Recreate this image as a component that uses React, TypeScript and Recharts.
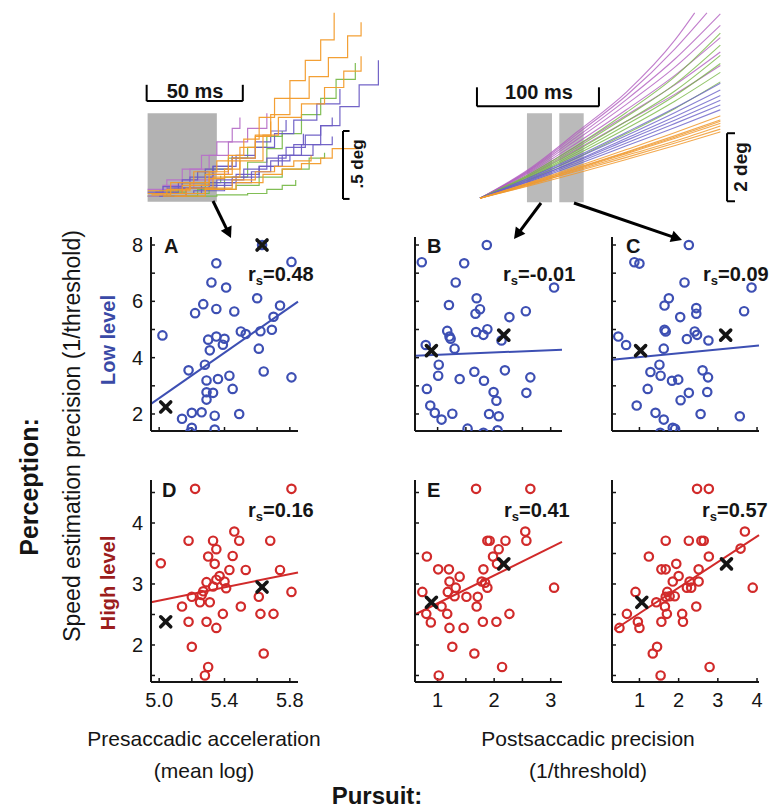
import React from 'react';
import {
  ScatterChart,
  Scatter,
  LineChart,
  Line,
  XAxis,
  YAxis,
  ReferenceLine,
  ReferenceArea,
} from 'recharts';

const FONT = '"Liberation Sans", Arial, Helvetica, sans-serif';
const BLUE = '#3d4fb3';
const RED = '#d12a2a';
const INK = '#151515';

type Pt = [number, number];

// ---- scatter data (x, y) per panel ----
// A: presaccadic acceleration vs low-level precision
const accelLow: Pt[] = [
  [5.02, 4.79], [5.35, 7.35], [5.81, 7.4], [5.32, 6.67], [5.41, 6.49], [5.27, 5.9],
  [5.22, 5.58], [5.35, 5.73], [5.46, 5.64], [5.6, 6.11], [5.74, 5.85], [5.7, 5.45],
  [5.69, 4.99], [5.62, 4.94], [5.5, 4.93], [5.53, 4.84], [5.35, 4.75], [5.3, 4.64],
  [5.4, 4.67], [5.39, 4.46], [5.31, 4.26], [5.61, 4.32], [5.28, 3.75], [5.18, 3.55],
  [5.64, 3.51], [5.81, 3.3], [5.43, 3.36], [5.36, 3.24], [5.29, 3.19], [5.45, 2.89],
  [5.29, 2.77], [5.33, 2.75], [5.29, 2.51], [5.49, 2.0], [5.2, 2.04], [5.26, 2.06],
  [5.34, 1.94], [5.14, 1.83], [5.2, 1.51], [5.19, 1.35], [5.34, 1.45], [5.63, 8.0],
];
const accelLowMarked: Pt[] = [[5.04, 2.25], [5.63, 8.0]];
const accelLowFit: Pt[] = [[4.95, 2.36], [5.85, 5.99]];

// B: postsaccadic precision (early window) vs low-level precision
const postLowB: Pt[] = [
  [0.72, 7.39], [1.87, 8.0], [1.47, 7.35], [1.32, 6.67], [3.06, 6.49], [1.2, 5.87],
  [1.69, 6.11], [1.75, 5.72], [1.67, 5.56], [2.27, 5.44], [2.56, 5.65], [1.17, 4.95],
  [1.21, 4.75], [1.23, 4.67], [1.68, 4.91], [1.81, 4.81], [1.88, 5.01], [2.13, 4.61],
  [0.79, 4.45], [1.3, 4.32], [1.02, 3.75], [1.01, 3.36], [1.39, 3.24], [1.65, 3.5],
  [1.82, 3.18], [2.19, 3.55], [2.64, 3.3], [0.81, 2.89], [1.99, 2.78], [2.04, 2.47],
  [2.57, 2.75], [0.87, 2.3], [0.95, 2.04], [1.07, 1.8], [1.26, 2.01], [1.91, 2.0],
  [2.08, 1.92], [1.53, 1.48], [1.81, 1.33], [2.06, 1.42],
];
const postLowBMarked: Pt[] = [[0.89, 4.25], [2.17, 4.8]];
const postLowBFit: Pt[] = [[0.6, 4.07], [3.2, 4.28]];

// C: postsaccadic precision (late window) vs low-level precision
const postLowC: Pt[] = [
  [2.26, 8.0], [0.87, 7.39], [1.0, 7.34], [2.15, 6.67], [3.86, 6.49], [1.75, 6.11],
  [1.64, 5.85], [2.45, 5.76], [2.45, 5.56], [2.04, 5.44], [3.67, 5.65], [1.64, 4.99],
  [1.67, 4.93], [2.41, 4.93], [2.47, 4.81], [2.21, 4.66], [2.76, 4.61], [0.46, 4.75],
  [0.66, 4.45], [1.62, 4.32], [1.51, 3.75], [1.28, 3.49], [1.54, 3.36], [1.83, 3.18],
  [1.99, 3.22], [2.61, 3.55], [2.75, 3.3], [1.21, 2.89], [2.26, 2.75], [2.05, 2.49],
  [2.73, 2.78], [0.93, 2.3], [1.41, 2.04], [1.62, 1.8], [2.56, 2.0], [3.56, 1.92],
  [1.85, 1.51], [1.91, 1.47], [1.53, 1.33],
];
const postLowCMarked: Pt[] = [[1.03, 4.25], [3.2, 4.8]];
const postLowCFit: Pt[] = [[0.3, 3.93], [4.05, 4.43]];

// D: presaccadic acceleration vs high-level precision
const accelHigh: Pt[] = [
  [5.22, 4.56], [5.81, 4.56], [5.01, 3.34], [5.18, 3.71], [5.33, 3.71], [5.35, 3.57],
  [5.46, 3.86], [5.49, 3.71], [5.68, 3.71], [5.3, 3.45], [5.45, 3.46], [5.34, 3.33],
  [5.43, 3.23], [5.53, 3.23], [5.74, 3.23], [5.37, 3.13], [5.29, 3.03], [5.35, 3.07],
  [5.4, 3.04], [5.33, 2.96], [5.41, 2.93], [5.27, 2.88], [5.26, 2.82], [5.2, 2.79],
  [5.25, 2.7], [5.31, 2.7], [5.14, 2.63], [5.61, 2.79], [5.81, 2.87], [5.5, 2.63],
  [5.18, 2.38], [5.29, 2.38], [5.35, 2.28], [5.39, 2.51], [5.62, 2.51], [5.7, 2.51],
  [5.2, 1.97], [5.64, 1.86], [5.3, 1.64], [5.28, 1.5],
];
const accelHighMarked: Pt[] = [[5.04, 2.38], [5.63, 2.95]];
const accelHighFit: Pt[] = [[4.95, 2.7], [5.85, 3.19]];

// E: postsaccadic precision (early window) vs high-level precision
const postHighE: Pt[] = [
  [1.68, 4.56], [2.64, 4.56], [2.55, 3.86], [2.57, 3.71], [1.88, 3.71], [1.92, 3.71],
  [2.2, 3.71], [2.08, 3.57], [1.98, 3.45], [2.05, 3.33], [0.81, 3.45], [1.01, 3.24],
  [1.2, 3.24], [1.81, 3.24], [1.39, 3.12], [1.21, 3.04], [1.32, 2.94], [1.78, 3.04],
  [1.84, 3.02], [1.88, 2.94], [3.06, 2.94], [0.73, 2.87], [1.18, 2.87], [1.3, 2.8],
  [1.51, 2.79], [1.71, 2.79], [1.69, 2.63], [1.07, 2.63], [0.8, 2.51], [1.17, 2.51],
  [0.88, 2.37], [1.21, 2.28], [1.46, 2.28], [1.8, 2.38], [2.04, 2.38], [2.27, 2.51],
  [1.26, 1.97], [1.65, 1.86], [2.14, 1.64], [1.02, 1.5],
];
const postHighEMarked: Pt[] = [[0.89, 2.7], [2.17, 3.33]];
const postHighEFit: Pt[] = [[0.6, 2.5], [3.2, 3.69]];

// F: postsaccadic precision (late window) vs high-level precision
const postHighF: Pt[] = [
  [2.47, 4.56], [2.77, 4.56], [3.69, 3.86], [3.58, 3.58], [1.67, 3.71], [2.26, 3.71],
  [2.58, 3.71], [2.64, 3.71], [1.24, 3.45], [2.77, 3.45], [1.94, 3.33], [1.56, 3.24],
  [1.67, 3.24], [2.51, 3.24], [2.0, 3.13], [1.85, 3.04], [2.28, 3.04], [2.51, 3.04],
  [2.21, 2.94], [2.32, 2.94], [3.89, 2.94], [0.9, 2.87], [1.71, 2.87], [1.67, 2.79],
  [1.77, 2.8], [1.9, 2.8], [1.43, 2.7], [1.65, 2.63], [2.45, 2.63], [0.68, 2.51],
  [1.7, 2.51], [2.09, 2.51], [0.96, 2.38], [1.56, 2.38], [2.11, 2.38], [0.49, 2.28],
  [1.0, 2.28], [1.45, 1.97], [1.34, 1.86], [2.79, 1.64], [1.54, 1.5],
];
const postHighFMarked: Pt[] = [[1.06, 2.7], [3.22, 3.33]];
const postHighFFit: Pt[] = [[0.36, 2.25], [4.05, 3.8]];

// correlation labels
const rsValues = ['0.48', '-0.01', '0.09', '0.16', '0.41', '0.57'];

// ticks
const accelTicks = [5.0, 5.2, 5.4, 5.6, 5.8];
const postTicksB = [1, 1.5, 2, 2.5, 3];
const postTicksC = [1, 2, 3, 4];
const lowTicks = [2, 3, 4, 5, 6, 7, 8];
const highTicks = [1.5, 2, 2.5, 3, 3.5, 4, 4.5];

// ---- eye traces (t in ms, position in deg) ----
const presacOrange: Pt[][] = [
  [[0, 0.02], [10, 0.05], [22, 0.1], [32, 0.18], [42, 0.3], [50, 0.42], [58, 0.58], [66, 0.72], [74, 0.85], [82, 1.0], [90, 1.15], [97, 1.35]],
  [[5, 0.02], [18, 0.08], [30, 0.16], [44, 0.28], [56, 0.45], [64, 0.6], [74, 0.72], [84, 0.88], [94, 1.02], [104, 1.18], [111, 1.28]],
  [[8, 0.0], [20, 0.06], [34, 0.14], [48, 0.26], [60, 0.45], [68, 0.58], [80, 0.68], [92, 0.8], [102, 0.92], [111, 1.03]],
  [[14, 0.0], [30, 0.05], [46, 0.1], [60, 0.16], [70, 0.2], [80, 0.24], [90, 0.28], [96, 0.35], [110, 0.35]],
  [[16, 0.02], [30, 0.06], [44, 0.12], [56, 0.18], [66, 0.22], [76, 0.26], [85, 0.3]],
  [[0, 0.04], [12, 0.1], [24, 0.18], [36, 0.26], [48, 0.36], [56, 0.44], [64, 0.55]],
  [[2, 0.01], [12, 0.04], [22, 0.08], [32, 0.13], [40, 0.2], [48, 0.26]],
];
const presacPurple: Pt[][] = [
  [[12, 0.02], [28, 0.08], [44, 0.14], [58, 0.22], [70, 0.3], [80, 0.38], [90, 0.52], [100, 0.66], [110, 0.82], [120, 1.0]],
  [[4, 0.03], [16, 0.1], [30, 0.2], [44, 0.28], [56, 0.36], [66, 0.46], [76, 0.56], [88, 0.68], [100, 0.79]],
  [[6, 0.0], [20, 0.06], [36, 0.12], [50, 0.2], [62, 0.28], [72, 0.36], [82, 0.45], [90, 0.52], [96, 0.58]],
  [[2, 0.02], [18, 0.06], [32, 0.1], [46, 0.16], [58, 0.22], [68, 0.3], [76, 0.38], [81, 0.46]],
  [[10, 0.06], [22, 0.14], [34, 0.22], [46, 0.3], [56, 0.4], [64, 0.48], [72, 0.56]],
  [[8, 0.02], [24, 0.04], [40, 0.1], [54, 0.18], [64, 0.26], [74, 0.3], [86, 0.38], [96, 0.44]],
  [[0, 0.03], [8, 0.07], [18, 0.12], [26, 0.18], [34, 0.22], [44, 0.3]],
];
const presacGreen: Pt[][] = [
  [[10, 0.0], [26, 0.05], [40, 0.14], [52, 0.25], [62, 0.35], [70, 0.46], [80, 0.6], [90, 0.72], [98, 0.86], [108, 0.98]],
  [[20, 0.0], [36, 0.01], [52, 0.02], [62, 0.05], [70, 0.08], [77, 0.12]],
  [[6, 0.04], [18, 0.1], [30, 0.2], [42, 0.28], [52, 0.36], [62, 0.44], [70, 0.48]],
  [[18, 0.02], [32, 0.05], [46, 0.08], [58, 0.14], [70, 0.2], [84, 0.28], [92, 0.32]],
  [[0, 0.0], [10, 0.03], [20, 0.06], [30, 0.1], [38, 0.15]],
];
const presacMagenta: Pt[][] = [
  [[0, 0.05], [10, 0.12], [22, 0.2], [32, 0.3], [42, 0.4], [52, 0.5], [62, 0.61]],
  [[0, 0.0], [8, 0.08], [18, 0.2], [28, 0.3], [36, 0.4], [44, 0.5], [48, 0.58]],
  [[4, 0.02], [14, 0.06], [24, 0.12], [34, 0.16], [42, 0.24]],
];

const postOrange: Pt[][] = [
  [[0, 0], [40, 0.36], [80, 0.74], [120, 1.14], [160, 1.55], [197, 1.95]],
  [[0, 0], [40, 0.4], [80, 0.8], [120, 1.2], [160, 1.62], [197, 2.03]],
  [[0, 0], [40, 0.38], [80, 0.83], [120, 1.26], [160, 1.68], [197, 2.12]],
  [[0, 0], [40, 0.42], [80, 0.86], [120, 1.31], [160, 1.76], [197, 2.2]],
  [[0, 0], [40, 0.44], [80, 0.9], [120, 1.36], [160, 1.84], [197, 2.3]],
  [[0, 0], [40, 0.45], [80, 0.94], [120, 1.43], [160, 1.93], [197, 2.42]],
  [[0, 0], [40, 0.41], [80, 0.88], [120, 1.34], [160, 1.8], [197, 2.26]],
];
const postBlue: Pt[][] = [
  [[0, 0], [40, 0.48], [80, 1.0], [120, 1.54], [160, 2.08], [197, 2.6]],
  [[0, 0], [40, 0.5], [80, 1.05], [120, 1.62], [160, 2.2], [197, 2.74]],
  [[0, 0], [40, 0.54], [80, 1.1], [120, 1.7], [160, 2.3], [197, 2.88]],
  [[0, 0], [40, 0.52], [80, 1.12], [120, 1.76], [160, 2.4], [197, 3.02]],
  [[0, 0], [40, 0.57], [80, 1.19], [120, 1.84], [160, 2.52], [197, 3.18]],
  [[0, 0], [40, 0.6], [80, 1.24], [120, 1.94], [160, 2.66], [197, 3.38]],
];
const postGreen: Pt[][] = [
  [[0, 0], [40, 0.55], [80, 1.2], [120, 1.9], [160, 2.64], [197, 3.42]],
  [[0, 0], [40, 0.6], [80, 1.3], [120, 2.05], [160, 2.86], [197, 3.7]],
  [[0, 0], [40, 0.62], [80, 1.36], [120, 2.16], [160, 3.02], [197, 3.96]],
  [[0, 0], [40, 0.65], [80, 1.42], [120, 2.26], [160, 3.16], [197, 4.2]],
  [[0, 0], [40, 0.67], [80, 1.5], [120, 2.4], [160, 3.36], [197, 4.5]],
  [[0, 0], [40, 0.7], [80, 1.56], [120, 2.52], [160, 3.58], [197, 4.85]],
];
const postMagenta: Pt[][] = [
  [[0, 0], [40, 0.66], [80, 1.45], [120, 2.26], [160, 3.06], [197, 3.9]],
  [[0, 0], [40, 0.7], [80, 1.55], [120, 2.44], [160, 3.34], [197, 4.3]],
  [[0, 0], [40, 0.74], [80, 1.64], [120, 2.6], [160, 3.62], [197, 4.72]],
  [[0, 0], [40, 0.77], [80, 1.74], [120, 2.76], [160, 3.86], [197, 5.08]],
  [[0, 0], [40, 0.8], [80, 1.82], [120, 2.9], [160, 4.1], [197, 5.42]],
  [[0, 0], [40, 0.82], [80, 1.9], [120, 3.02], [160, 4.4], [186, 5.45]],
  [[0, 0], [40, 0.85], [80, 1.96], [120, 3.12], [160, 4.66], [176, 5.45]],
];

const toXY = (pts: Pt[]) => pts.map(([x, y]) => ({ x, y }));
const toTD = (pts: Pt[]) => pts.map(([t, d]) => ({ t, d }));

const OpenCircle = (color: string) => (props: any) => {
  const { cx, cy } = props;
  if (cx == null || cy == null) return null;
  return <circle cx={cx} cy={cy} r={4.2} fill="none" stroke={color} strokeWidth={2.2} />;
};

const Cross = (props: any) => {
  const { cx, cy } = props;
  if (cx == null || cy == null) return null;
  const s = 5;
  return (
    <g stroke={INK} strokeWidth={3.6} strokeLinecap="round">
      <line x1={cx - s} y1={cy - s} x2={cx + s} y2={cy + s} />
      <line x1={cx - s} y1={cy + s} x2={cx + s} y2={cy - s} />
    </g>
  );
};

const none = () => '';

interface PanelProps {
  left: number;
  top: number;
  w: number;
  h: number;
  xDomain: [number, number];
  yDomain: [number, number];
  xTicks: number[];
  yTicks: number[];
  fmtX: (v: number) => string;
  fmtY: (v: number) => string;
  pts: Pt[];
  marked: Pt[];
  fit: Pt[];
  color: string;
}

const Panel: React.FC<PanelProps> = ({ left, top, w, h, xDomain, yDomain, xTicks, yTicks, fmtX, fmtY, pts, marked, fit, color }) => {
  const axisLine = { stroke: INK, strokeWidth: 2 };
  const tickLine = { stroke: INK, strokeWidth: 1.5 };
  const tick = { fontSize: 20, fill: INK, fontFamily: FONT };
  return (
    <div style={{ position: 'absolute', left: left - 40, top: top - 10 }}>
      <ScatterChart width={w + 50} height={h + 50} margin={{ top: 10, right: 10, bottom: 0, left: 0 }}>
        <XAxis
          type="number"
          dataKey="x"
          domain={xDomain}
          ticks={xTicks}
          tickFormatter={fmtX}
          interval={0}
          allowDataOverflow
          height={40}
          tickSize={-4}
          tickMargin={15}
          axisLine={axisLine}
          tickLine={tickLine}
          tick={tick}
        />
        <YAxis
          type="number"
          dataKey="y"
          domain={yDomain}
          ticks={yTicks}
          tickFormatter={fmtY}
          interval={0}
          allowDataOverflow
          width={40}
          tickSize={-4}
          tickMargin={12}
          axisLine={axisLine}
          tickLine={tickLine}
          tick={tick}
        />
        <Scatter data={toXY(pts)} shape={OpenCircle(color)} isAnimationActive={false} />
        <ReferenceLine
          segment={[{ x: fit[0][0], y: fit[0][1] }, { x: fit[1][0], y: fit[1][1] }]}
          stroke={color}
          strokeWidth={2}
          ifOverflow="visible"
        />
        <Scatter data={toXY(marked)} shape={Cross} isAnimationActive={false} />
      </ScatterChart>
    </div>
  );
};

const Arrow: React.FC<{ x1: number; y1: number; x2: number; y2: number }> = ({ x1, y1, x2, y2 }) => {
  const dx = x2 - x1;
  const dy = y2 - y1;
  const L = Math.hypot(dx, dy);
  const ux = dx / L;
  const uy = dy / L;
  const hl = 11;
  const hw = 6;
  const bx = x2 - ux * hl;
  const by = y2 - uy * hl;
  return (
    <g>
      <line x1={x1} y1={y1} x2={bx + ux * 2} y2={by + uy * 2} stroke="#000" strokeWidth={3} />
      <polygon points={`${x2},${y2} ${bx - uy * hw},${by + ux * hw} ${bx + uy * hw},${by - ux * hw}`} fill="#000" />
    </g>
  );
};

const Txt: React.FC<{ cx: number; cy: number; size: number; bold?: boolean; color?: string; rotate?: boolean; children: React.ReactNode }> = ({
  cx, cy, size, bold, color = INK, rotate, children,
}) => (
  <div
    style={{
      position: 'absolute',
      left: cx,
      top: cy,
      transform: `translate(-50%, -50%)${rotate ? ' rotate(-90deg)' : ''}`,
      fontSize: size,
      fontWeight: bold ? 'bold' : 'normal',
      color,
      lineHeight: 1,
      whiteSpace: 'nowrap',
    }}
  >
    {children}
  </div>
);

const Rs: React.FC<{ left: number; top: number; value: string }> = ({ left, top, value }) => (
  <div style={{ position: 'absolute', left, top, fontSize: 20, fontWeight: 'bold', lineHeight: 1, color: INK, whiteSpace: 'nowrap' }}>
    r<span style={{ fontSize: 13, position: 'relative', top: 4 }}>s</span>={value}
  </div>
);

const Letter: React.FC<{ left: number; top: number; ch: string }> = ({ left, top, ch }) => (
  <div style={{ position: 'absolute', left, top, fontSize: 20, fontWeight: 'bold', lineHeight: 1, color: INK }}>{ch}</div>
);

const TraceGroup = (sets: Pt[][], color: string, type: 'stepAfter' | 'monotone', width: number, opacity: number, key: string) =>
  sets.map((s, i) => (
    <Line
      key={`${key}${i}`}
      data={toTD(s)}
      dataKey="d"
      type={type}
      stroke={color}
      strokeWidth={width}
      strokeOpacity={opacity}
      dot={false}
      isAnimationActive={false}
    />
  ));

export default function App() {
  const lowDomain: [number, number] = [1.396, 8.284];
  const highDomain: [number, number] = [1.393, 4.705];
  const fmtLowY = (v: number) => (Math.round(v) % 2 === 0 ? String(v) : '');
  const fmtHighY = (v: number) => (Number.isInteger(v) ? String(v) : '');
  const fmtAccelX = (v: number) => (Math.round(v * 10) % 4 === 2 ? v.toFixed(1) : '');
  const fmtIntX = (v: number) => (Number.isInteger(v) ? String(v) : '');

  const presacT: [number, number] = [-5, 125];
  const presacD: [number, number] = [-0.05, 1.4];

  return (
    <div style={{ position: 'absolute', left: 0, top: 0, width: 777, height: 809, background: '#fff', fontFamily: FONT, overflow: 'hidden' }}>
      {/* presaccadic window (behind the traces) */}
      <div style={{ position: 'absolute', left: 138, top: 6 }}>
        <LineChart width={250} height={197} margin={{ top: 0, right: 0, bottom: 0, left: 0 }}>
          <XAxis type="number" dataKey="t" domain={presacT} hide allowDataOverflow />
          <YAxis type="number" domain={presacD} hide allowDataOverflow />
          <ReferenceArea x1={0} x2={36} y1={-0.04} y2={0.61} fill="#b3b3b3" fillOpacity={1} stroke="none" ifOverflow="visible" />
        </LineChart>
      </div>
      {/* presaccadic traces */}
      <div style={{ position: 'absolute', left: 138, top: 6 }}>
        <LineChart width={250} height={197} margin={{ top: 0, right: 0, bottom: 0, left: 0 }}>
          <XAxis type="number" dataKey="t" domain={presacT} hide allowDataOverflow />
          <YAxis type="number" domain={presacD} hide allowDataOverflow />
          {TraceGroup(presacGreen, '#7aba4c', 'stepAfter', 1.2, 0.95, 'pg')}
          {TraceGroup(presacMagenta, '#b772c8', 'stepAfter', 1.2, 0.95, 'pm')}
          {TraceGroup(presacPurple, '#6b5cc4', 'stepAfter', 1.2, 0.95, 'pp')}
          {TraceGroup(presacOrange, '#f29b2a', 'stepAfter', 1.2, 0.95, 'po')}
          <ReferenceLine segment={[{ x: -0.5, y: 0.7 }, { x: 49.5, y: 0.7 }]} stroke="#000" strokeWidth={2} ifOverflow="visible" />
          <ReferenceLine segment={[{ x: -0.5, y: 0.7 }, { x: -0.5, y: 0.82 }]} stroke="#000" strokeWidth={2} ifOverflow="visible" />
          <ReferenceLine segment={[{ x: 49.5, y: 0.7 }, { x: 49.5, y: 0.82 }]} stroke="#000" strokeWidth={2} ifOverflow="visible" />
          <ReferenceLine segment={[{ x: 101.6, y: -0.02 }, { x: 101.6, y: 0.48 }]} stroke="#000" strokeWidth={2} ifOverflow="visible" />
          <ReferenceLine segment={[{ x: 101.6, y: -0.02 }, { x: 105, y: -0.02 }]} stroke="#000" strokeWidth={2} ifOverflow="visible" />
          <ReferenceLine segment={[{ x: 101.6, y: 0.48 }, { x: 105, y: 0.48 }]} stroke="#000" strokeWidth={2} ifOverflow="visible" />
        </LineChart>
      </div>

      {/* postsaccadic traces */}
      <div style={{ position: 'absolute', left: 470, top: 5 }}>
        <LineChart width={269} height={200} margin={{ top: 0, right: 0, bottom: 0, left: 0 }}>
          <XAxis type="number" dataKey="t" domain={[-8.2, 212.3]} hide allowDataOverflow />
          <YAxis type="number" domain={[-0.2, 5.68]} hide allowDataOverflow />
          {TraceGroup(postMagenta, '#b15ebf', 'monotone', 1.1, 0.8, 'qm')}
          {TraceGroup(postGreen, '#78b646', 'monotone', 1.1, 0.8, 'qg')}
          {TraceGroup(postBlue, '#6a60c8', 'monotone', 1.1, 0.8, 'qb')}
          {TraceGroup(postOrange, '#f09a30', 'monotone', 1.1, 0.85, 'qo')}
          <ReferenceArea x1={38.5} x2={59} y1={-0.12} y2={2.5} fill="#b3b3b3" fillOpacity={0.9} stroke="none" ifOverflow="visible" />
          <ReferenceArea x1={65} x2={85} y1={-0.12} y2={2.5} fill="#b3b3b3" fillOpacity={0.9} stroke="none" ifOverflow="visible" />
          <ReferenceLine segment={[{ x: -2.5, y: 2.7 }, { x: 97.5, y: 2.7 }]} stroke="#000" strokeWidth={2} ifOverflow="visible" />
          <ReferenceLine segment={[{ x: -2.5, y: 2.7 }, { x: -2.5, y: 3.26 }]} stroke="#000" strokeWidth={2} ifOverflow="visible" />
          <ReferenceLine segment={[{ x: 97.5, y: 2.7 }, { x: 97.5, y: 3.26 }]} stroke="#000" strokeWidth={2} ifOverflow="visible" />
          <ReferenceLine segment={[{ x: 202.5, y: -0.09 }, { x: 202.5, y: 1.91 }]} stroke="#000" strokeWidth={2} ifOverflow="visible" />
          <ReferenceLine segment={[{ x: 202.5, y: -0.09 }, { x: 209, y: -0.09 }]} stroke="#000" strokeWidth={2} ifOverflow="visible" />
          <ReferenceLine segment={[{ x: 202.5, y: 1.91 }, { x: 209, y: 1.91 }]} stroke="#000" strokeWidth={2} ifOverflow="visible" />
        </LineChart>
      </div>

      <Txt cx={195} cy={91} size={20} bold>50 ms</Txt>
      <Txt cx={539} cy={92} size={20} bold>100 ms</Txt>
      <Txt cx={357} cy={164} size={17} bold rotate>.5 deg</Txt>
      <Txt cx={740} cy={167} size={19} bold rotate>2 deg</Txt>

      {/* scatter panels */}
      <Panel left={151} top={237} w={147} h={194} xDomain={[4.95, 5.85]} yDomain={lowDomain} xTicks={accelTicks} yTicks={lowTicks}
        fmtX={none} fmtY={fmtLowY} pts={accelLow} marked={accelLowMarked} fit={accelLowFit} color={BLUE} />
      <Panel left={415} top={237} w={147} h={194} xDomain={[0.6, 3.2]} yDomain={lowDomain} xTicks={postTicksB} yTicks={lowTicks}
        fmtX={none} fmtY={none} pts={postLowB} marked={postLowBMarked} fit={postLowBFit} color={BLUE} />
      <Panel left={612} top={237} w={147} h={194} xDomain={[0.3, 4.05]} yDomain={lowDomain} xTicks={postTicksC} yTicks={lowTicks}
        fmtX={none} fmtY={none} pts={postLowC} marked={postLowCMarked} fit={postLowCFit} color={BLUE} />
      <Panel left={151} top={480} w={147} h={202} xDomain={[4.95, 5.85]} yDomain={highDomain} xTicks={accelTicks} yTicks={highTicks}
        fmtX={fmtAccelX} fmtY={fmtHighY} pts={accelHigh} marked={accelHighMarked} fit={accelHighFit} color={RED} />
      <Panel left={415} top={480} w={147} h={202} xDomain={[0.6, 3.2]} yDomain={highDomain} xTicks={postTicksB} yTicks={highTicks}
        fmtX={fmtIntX} fmtY={none} pts={postHighE} marked={postHighEMarked} fit={postHighEFit} color={RED} />
      <Panel left={612} top={480} w={147} h={202} xDomain={[0.3, 4.05]} yDomain={highDomain} xTicks={postTicksC} yTicks={highTicks}
        fmtX={fmtIntX} fmtY={none} pts={postHighF} marked={postHighFMarked} fit={postHighFFit} color={RED} />

      <Letter left={164} top={236} ch="A" />
      <Letter left={427} top={236} ch="B" />
      <Letter left={626} top={236} ch="C" />
      <Letter left={162} top={480} ch="D" />
      <Letter left={427} top={480} ch="E" />

      <Rs left={248} top={264} value={rsValues[0]} />
      <Rs left={503} top={264} value={rsValues[1]} />
      <Rs left={703} top={264} value={rsValues[2]} />
      <Rs left={248} top={500} value={rsValues[3]} />
      <Rs left={504} top={500} value={rsValues[4]} />
      <Rs left={702} top={500} value={rsValues[5]} />

      {/* axis titles */}
      <Txt cx={72} cy={436} size={23} rotate>Speed estimation precision (1/threshold)</Txt>
      <Txt cx={29} cy={487} size={25} bold rotate>Perception:</Txt>
      <Txt cx={108} cy={340} size={20} bold color="#3a4aa6" rotate>Low level</Txt>
      <Txt cx={108} cy={583} size={20} bold color="#9b1d1d" rotate>High level</Txt>
      <Txt cx={204} cy={738} size={21}>Presaccadic acceleration</Txt>
      <Txt cx={204} cy={770} size={21}>(mean log)</Txt>
      <Txt cx={588} cy={738} size={21}>Postsaccadic precision</Txt>
      <Txt cx={588} cy={770} size={21}>(1/threshold)</Txt>
      <Txt cx={377} cy={796} size={24} bold>Pursuit:</Txt>

      <svg width={777} height={809} style={{ position: 'absolute', left: 0, top: 0, pointerEvents: 'none' }}>
        <Arrow x1={213} y1={201} x2={231} y2={238} />
        <Arrow x1={541} y1={203} x2={514} y2={239} />
        <Arrow x1={574} y1={203} x2={682} y2={240} />
      </svg>
    </div>
  );
}
